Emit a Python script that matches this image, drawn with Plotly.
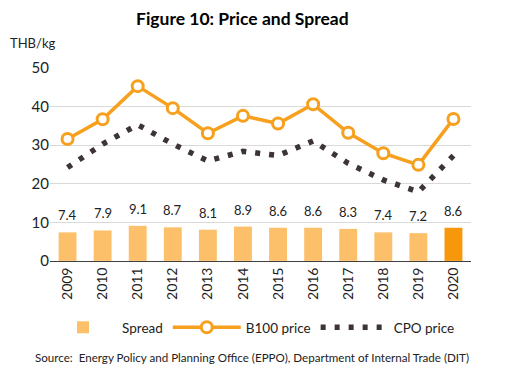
import plotly.graph_objects as go

years = ["2009","2010","2011","2012","2013","2014","2015","2016","2017","2018","2019","2020"]
spread = [7.4, 7.9, 9.1, 8.7, 8.1, 8.9, 8.6, 8.6, 8.3, 7.4, 7.2, 8.6]
b100 = [31.6, 36.7, 45.3, 39.6, 33.1, 37.6, 35.6, 40.6, 33.2, 27.9, 24.9, 36.8]
cpo = [24.2, 30.3, 35.3, 30.3, 25.9, 28.4, 27.3, 31.1, 25.3, 21.0, 17.9, 27.3]
spread_labels = [f"{v:.1f}" for v in spread]

light = "#FCC06B"
dark = "#F7980C"
bar_colors = [light] * (len(years) - 1) + [dark]
FONT = "Lato"

# The page body has an 8px default margin, so the figure is sized to fit the window.
W, H = 497, 367

fig = go.Figure()
fig.add_trace(go.Bar(
    x=years, y=spread, name="Spread",
    marker=dict(color=bar_colors, line=dict(width=0)),
))
fig.add_trace(go.Scatter(
    x=years, y=b100, name="B100 price", mode="lines+markers",
    line=dict(color="#F7A01E", width=3.5),
    marker=dict(symbol="circle", size=11, color="white",
                line=dict(color="#F7A01E", width=3)),
))
fig.add_trace(go.Scatter(
    x=years, y=cpo, name="CPO price", mode="lines",
    line=dict(color="#3D3434", width=5.5, dash="5px,9px"),
))

for i, (v, t) in enumerate(zip(spread, spread_labels)):
    fig.add_annotation(x=i, y=v, text=t, showarrow=False, yshift=17,
                       font=dict(family=FONT, size=13, color="#222"))

fig.add_annotation(text="<b>Figure 10: Price and Spread</b>", xref="paper", yref="paper",
                   x=(242 - 50) / 421, y=1, yshift=50, showarrow=False, yanchor="middle",
                   font=dict(family=FONT, size=17.5, color="black"))
fig.add_annotation(text="THB/kg", xref="paper", yref="paper", x=0, xshift=-42, y=1, yshift=25,
                   showarrow=False, xanchor="left", yanchor="middle",
                   font=dict(family=FONT, size=13, color="#222"))
fig.add_annotation(text="Source:  Energy Policy and Planning Office (EPPO), Department of Internal Trade (DIT)",
                   xref="paper", yref="paper", x=0, xshift=-17, y=0, yshift=-97, showarrow=False,
                   xanchor="left", yanchor="middle",
                   font=dict(family=FONT, size=11.6, color="#222"))

fig.update_layout(
    width=W, height=H,
    margin=dict(l=42, r=34, t=60, b=112),
    plot_bgcolor="white", paper_bgcolor="white",
    bargap=0.49,
    showlegend=True,
    legend=dict(orientation="h", xref="container", yref="container",
                x=244 / W, xanchor="center", y=1 - 304 / H, yanchor="top",
                font=dict(family=FONT, size=13.5, color="#222"), traceorder="normal",
                itemwidth=68),
    font=dict(family=FONT),
)
fig.update_yaxes(range=[0, 50], tickvals=[0, 10, 20, 30, 40, 50],
                 showgrid=True, gridcolor="#D9D9D9", gridwidth=1,
                 zeroline=False, showline=False, ticks="",
                 tickfont=dict(family=FONT, size=15, color="#222"))
fig.update_xaxes(type="category", range=[-0.5, len(years) - 0.5],
                 showline=True, linecolor="#404040", linewidth=1,
                 tickangle=-90, ticks="", showgrid=False,
                 tickfont=dict(family=FONT, size=14, color="#222"))

fig.write_html("out.html")
